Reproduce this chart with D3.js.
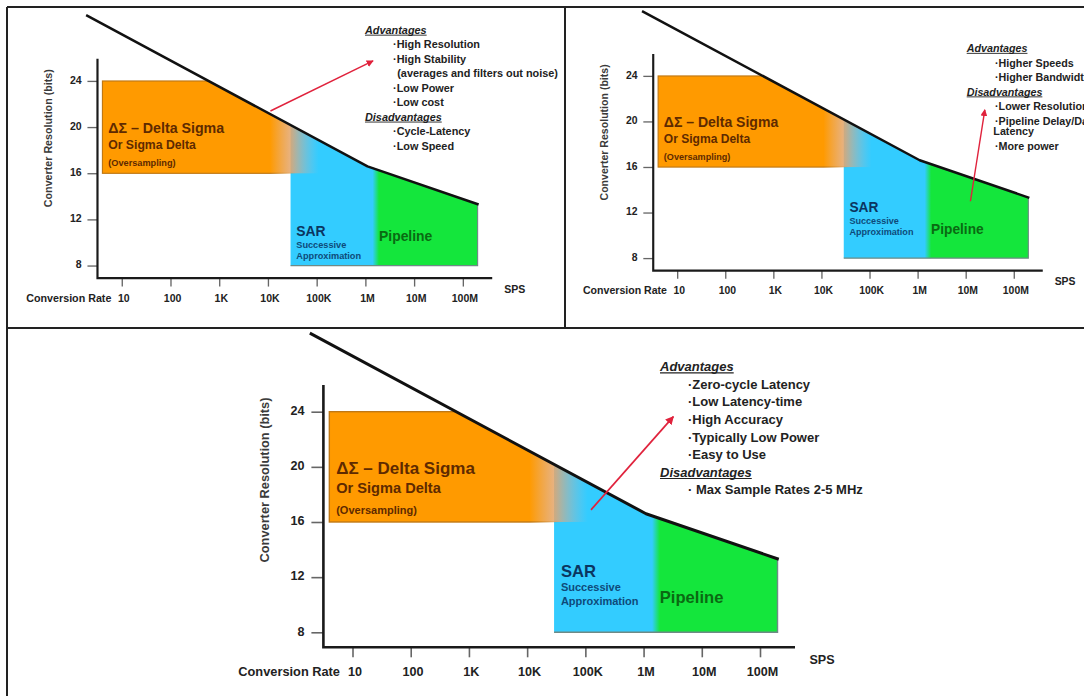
<!DOCTYPE html>
<html>
<head>
<meta charset="utf-8">
<script src="https://cdn.jsdelivr.net/npm/d3@7"></script>
<style>
  html, body { margin: 0; padding: 0; background: #fff; }
  svg { display: block; font-family: "Liberation Sans", Arial, sans-serif; }
</style>
</head>
<body>
<svg id="chart" width="1084" height="696"></svg>
<script>
// ---- Data -------------------------------------------------------------
const rateTicks = [10, 100, 1e3, 1e4, 1e5, 1e6, 1e7, 1e8];
const rateTickLabels = ["10", "100", "1K", "10K", "100K", "1M", "10M", "100M"];
const bitTicks = [8, 12, 16, 20, 24];

// Upper resolution limit vs. conversion rate (SPS, bits)
const limitRate = [1.85, 1.1e6, 2.1e8];
const limitBits = [29.7, 16.6, 13.3];

// Architecture regions
const regionNames   = ["deltaSigma", "sar", "pipeline"];
const regionRateFrom = [4, 2.9e4, 1.4e6];
const regionRateTo   = [1.1e5, 1.9e6, 2e8];
const regionBitsFrom = [16, 8, 8];
const regionBitsTo   = [24, 30, 30];
const deltaSigmaFade = [1.1e4, 1.1e5];
const pipelineFade   = [1.4e6, 1.9e6];

const deltaSigmaLabel = ["ΔΣ – Delta Sigma", "Or Sigma Delta", "(Oversampling)"];
const deltaSigmaLabelRate = 5.25;
const deltaSigmaLabelBits = [19.95, 18.5, 16.9];
const sarLabel = ["SAR", "Successive", "Approximation"];
const sarLabelRate = 3.8e4;
const pipelineLabel = "Pipeline";
const pipelineLabelRate = 1.9e6;
const pipelineLabelBits = 10.53;

// Notes per architecture
const advantagesDS = [["·High Resolution"], ["·High Stability", "(averages and filters out noise)"], ["·Low Power"], ["·Low cost"]];
const disadvantagesDS = [["·Cycle-Latency"], ["·Low Speed"]];
const advantagesPipe = [["·Higher Speeds"], ["·Higher Bandwidth"]];
const disadvantagesPipe = [["·Lower Resolution"], ["·Pipeline Delay/Data", "Latency"], ["·More power"]];
const advantagesSAR = [["·Zero-cycle Latency"], ["·Low Latency-time"], ["·High Accuracy"], ["·Typically Low Power"], ["·Easy to Use"]];
const disadvantagesSAR = [["· Max Sample Rates 2-5 MHz"]];

// ---- Colours ----------------------------------------------------------
const ORANGE = "#FF9A00", BLUE = "#33CCFF", GREEN = "#14E63C", RED = "#E0223C";

// ---- Shared full-size panel geometry ----------------------------------
const x = d3.scaleLog().domain([10, 1e8]).range([352.5, 760]);
const y = d3.scaleLinear().domain([8, 24]).range([632.3, 411.7]);
const frame = { axisX: 323.4, axisTop: 385, axisY: 647.3, axisRight: 795 };

const panels = [
  { id: "ds", ox: -173.2, oy: -263.6, k: 0.837,
    sarBits: [11.04, 9.83, 8.87],
    arrowRate: [1.12e4, 1.43e6], arrowBits: [21.4, 25.74],
    note: { headX: 643, itemX: 676.5, top: 350.8, gap: 17.3, contGap: 17.3, contDx: 5 },
    adv: advantagesDS, dis: disadvantagesDS },
  { id: "pipe", ox: 386.1, oy: -264.1, k: 0.826,
    sarBits: [12.45, 11.3, 10.33],
    arrowRate: [1.25e7, 2.49e7], arrowBits: [13.0, 21.03],
    note: { headX: 702.9, itemX: 737.2, top: 378.2, gap: 17.55, contGap: 13, contDx: -2 },
    adv: advantagesPipe, dis: disadvantagesPipe },
  { id: "sar", ox: 0, oy: 0, k: 1,
    sarBits: [12.41, 11.28, 10.3],
    arrowRate: [1.25e5, 3.25e6], arrowBits: [16.88, 23.64],
    note: { headX: 660, itemX: 688, top: 366.7, gap: 17.6, contGap: 17.6, contDx: 0 },
    adv: advantagesSAR, dis: disadvantagesSAR }
];

const svg = d3.select("#chart");
const defs = svg.append("defs");

// ---- Cell borders -----------------------------------------------------
const borders = svg.append("g").attr("stroke", "#222").attr("stroke-width", 2).attr("fill", "none");
borders.append("line").attr("x1", 7).attr("y1", 7).attr("x2", 1084).attr("y2", 7);
borders.append("line").attr("x1", 7).attr("y1", 7).attr("x2", 7).attr("y2", 696);
borders.append("line").attr("x1", 565).attr("y1", 7).attr("x2", 565).attr("y2", 328);
borders.append("line").attr("x1", 7).attr("y1", 328).attr("x2", 1084).attr("y2", 328);

const limitPts = limitRate.map((r, i) => [x(r), y(limitBits[i])]);

panels.forEach(p => {
  const g = svg.append("g").attr("transform", `translate(${p.ox},${p.oy}) scale(${p.k})`);

  // clip: everything below the resolution limit
  const clipId = "below-" + p.id;
  const bottom = y(0);
  const clipPath = "M" + limitPts.map(d => d.join(",")).join("L") +
    `L${limitPts[limitPts.length - 1][0]},${bottom}L${limitPts[0][0]},${bottom}Z`;
  defs.append("clipPath").attr("id", clipId).append("path").attr("d", clipPath);

  // gradients
  const dsGrad = defs.append("linearGradient").attr("id", "dsFade-" + p.id)
    .attr("gradientUnits", "userSpaceOnUse")
    .attr("x1", x(deltaSigmaFade[0])).attr("x2", x(deltaSigmaFade[1])).attr("y1", 0).attr("y2", 0);
  dsGrad.append("stop").attr("offset", 0).attr("stop-color", ORANGE).attr("stop-opacity", 1);
  dsGrad.append("stop").attr("offset", 0.45).attr("stop-color", "#E2A672").attr("stop-opacity", 0.85);
  dsGrad.append("stop").attr("offset", 1).attr("stop-color", "#A8BCD0").attr("stop-opacity", 0);

  const dsEdge = defs.append("linearGradient").attr("id", "dsEdge-" + p.id)
    .attr("gradientUnits", "userSpaceOnUse")
    .attr("x1", x(deltaSigmaFade[0])).attr("x2", x(deltaSigmaFade[0]) + 30).attr("y1", 0).attr("y2", 0);
  dsEdge.append("stop").attr("offset", 0).attr("stop-color", "#C07814").attr("stop-opacity", 1);
  dsEdge.append("stop").attr("offset", 1).attr("stop-color", "#C07814").attr("stop-opacity", 0);

  const pGrad = defs.append("linearGradient").attr("id", "pipeFade-" + p.id)
    .attr("gradientUnits", "userSpaceOnUse")
    .attr("x1", x(pipelineFade[0])).attr("x2", x(pipelineFade[1])).attr("y1", 0).attr("y2", 0);
  pGrad.append("stop").attr("offset", 0).attr("stop-color", GREEN).attr("stop-opacity", 0);
  pGrad.append("stop").attr("offset", 1).attr("stop-color", GREEN).attr("stop-opacity", 1);

  // regions (drawn SAR first so the others blend over it)
  const fills = { deltaSigma: `url(#dsFade-${p.id})`, sar: BLUE, pipeline: `url(#pipeFade-${p.id})` };
  const order = [1, 2, 0];
  const regions = g.append("g").attr("clip-path", `url(#${clipId})`);
  order.forEach(i => {
    regions.append("rect")
      .attr("x", x(regionRateFrom[i]))
      .attr("y", y(regionBitsTo[i]))
      .attr("width", x(regionRateTo[i]) - x(regionRateFrom[i]))
      .attr("height", y(regionBitsFrom[i]) - y(regionBitsTo[i]))
      .attr("fill", fills[regionNames[i]])
      .attr("stroke", regionNames[i] === "deltaSigma" ? `url(#dsEdge-${p.id})` : "none")
      .attr("stroke-width", 1.4);
  });
  // lower edge of the SAR + pipeline band
  const endBits = d3.scaleLinear().domain(d3.extent(limitPts.slice(1), d => d[0])).range([limitPts[1][1], limitPts[2][1]]);
  g.append("path")
    .attr("d", `M${x(regionRateFrom[1])},${y(regionBitsFrom[1])}L${x(regionRateTo[2])},${y(regionBitsFrom[2])}L${x(regionRateTo[2])},${endBits(x(regionRateTo[2]))}`)
    .attr("fill", "none").attr("stroke", "#6f8a86").attr("stroke-width", 1.4);

  // resolution limit
  g.append("path")
    .attr("d", d3.line()(limitPts))
    .attr("fill", "none").attr("stroke", "#111").attr("stroke-width", 3)
    .attr("stroke-linejoin", "round");

  // axes
  const yAxis = g.append("g").attr("transform", `translate(${frame.axisX},0)`)
    .call(d3.axisLeft(y).tickValues(bitTicks).tickSize(12).tickPadding(7).tickFormat(d3.format("d")));
  yAxis.select(".domain").remove();
  yAxis.selectAll(".tick line").attr("stroke", "#666").attr("stroke-width", 1.6);
  yAxis.selectAll(".tick text").attr("font-size", 12.6).attr("font-weight", "bold").attr("fill", "#222")
    .attr("font-family", "Liberation Sans, Arial, sans-serif").attr("dy", "0.22em");

  const xAxis = g.append("g").attr("transform", `translate(0,${frame.axisY})`)
    .call(d3.axisBottom(x).tickValues(rateTicks).tickSize(10).tickPadding(10)
      .tickFormat((d, i) => rateTickLabels[i]));
  xAxis.select(".domain").remove();
  xAxis.selectAll(".tick line").attr("stroke", "#666").attr("stroke-width", 1.6);
  xAxis.selectAll(".tick text").attr("font-size", 12.6).attr("font-weight", "bold").attr("fill", "#222")
    .attr("font-family", "Liberation Sans, Arial, sans-serif").attr("dx", "0.15em");

  g.append("path")
    .attr("d", `M${frame.axisX},${frame.axisTop}V${frame.axisY}H${frame.axisRight}`)
    .attr("fill", "none").attr("stroke", "#1a1a1a").attr("stroke-width", 2.6);

  g.append("text").attr("x", 340).attr("y", 671.7).attr("dy", "0.35em")
    .attr("text-anchor", "end").attr("font-size", 12.8).attr("font-weight", "bold").attr("fill", "#222")
    .text("Conversion Rate");
  g.append("text").attr("x", 822).attr("y", 660).attr("dy", "0.35em")
    .attr("text-anchor", "middle").attr("font-size", 12.6).attr("font-weight", "bold").attr("fill", "#222")
    .text("SPS");
  g.append("text").attr("transform", "translate(264.7,480) rotate(-90)").attr("dy", "0.35em")
    .attr("text-anchor", "middle").attr("font-size", 12.8).attr("font-weight", "bold").attr("fill", "#3a3a3a")
    .text("Converter Resolution (bits)");

  // region labels
  const dsSizes = [17, 14.6, 11];
  deltaSigmaLabel.forEach((t, i) => {
    g.append("text").attr("x", x(deltaSigmaLabelRate)).attr("y", y(deltaSigmaLabelBits[i])).attr("dy", "0.36em")
      .attr("font-size", dsSizes[i]).attr("font-weight", "bold").attr("fill", "#5e2a00").text(t);
  });
  const sarSizes = [16.6, 11, 11];
  sarLabel.forEach((t, i) => {
    g.append("text").attr("x", x(sarLabelRate)).attr("y", y(p.sarBits[i])).attr("dy", "0.36em")
      .attr("font-size", sarSizes[i]).attr("font-weight", "bold").attr("fill", i === 0 ? "#0b3560" : "#0e4a7a").text(t);
  });
  g.append("text").attr("x", x(pipelineLabelRate)).attr("y", y(pipelineLabelBits)).attr("dy", "0.36em")
    .attr("font-size", 16.6).attr("font-weight", "bold").attr("fill", "#0a6a12").text(pipelineLabel);

  // pointer arrow
  const markerId = "head-" + p.id;
  defs.append("marker").attr("id", markerId).attr("viewBox", "0 0 10 10")
    .attr("refX", 9).attr("refY", 5).attr("markerWidth", 5).attr("markerHeight", 5).attr("orient", "auto")
    .append("path").attr("d", "M0,0L10,5L0,10Z").attr("fill", RED);
  g.append("line")
    .attr("x1", x(p.arrowRate[0])).attr("y1", y(p.arrowBits[0]))
    .attr("x2", x(p.arrowRate[1])).attr("y2", y(p.arrowBits[1]))
    .attr("stroke", RED).attr("stroke-width", 1.7).attr("marker-end", `url(#${markerId})`);

  // advantages / disadvantages notes
  const n = p.note;
  let cy = n.top;
  const fs = 13;
  function heading(t) {
    const tx = g.append("text").attr("x", n.headX).attr("y", cy).attr("dy", "0.35em")
      .attr("font-size", fs).attr("font-weight", "bold").attr("font-style", "italic").attr("fill", "#222").text(t);
    const w = tx.node().getComputedTextLength();
    g.append("line").attr("x1", n.headX).attr("x2", n.headX + w)
      .attr("y1", cy + 0.35 * fs + 1.6).attr("y2", cy + 0.35 * fs + 1.6)
      .attr("stroke", "#222").attr("stroke-width", 1.1);
    cy += n.gap;
  }
  function items(list) {
    list.forEach(lines => {
      lines.forEach((t, j) => {
        if (j > 0) cy += n.contGap - n.gap;
        g.append("text").attr("x", n.itemX + (j > 0 ? n.contDx : 0)).attr("y", cy).attr("dy", "0.35em")
          .attr("font-size", fs).attr("font-weight", "bold").attr("fill", "#222").text(t);
        cy += n.gap;
      });
    });
  }
  heading("Advantages");
  items(p.adv);
  heading("Disadvantages");
  items(p.dis);
});
</script>
</body>
</html>
